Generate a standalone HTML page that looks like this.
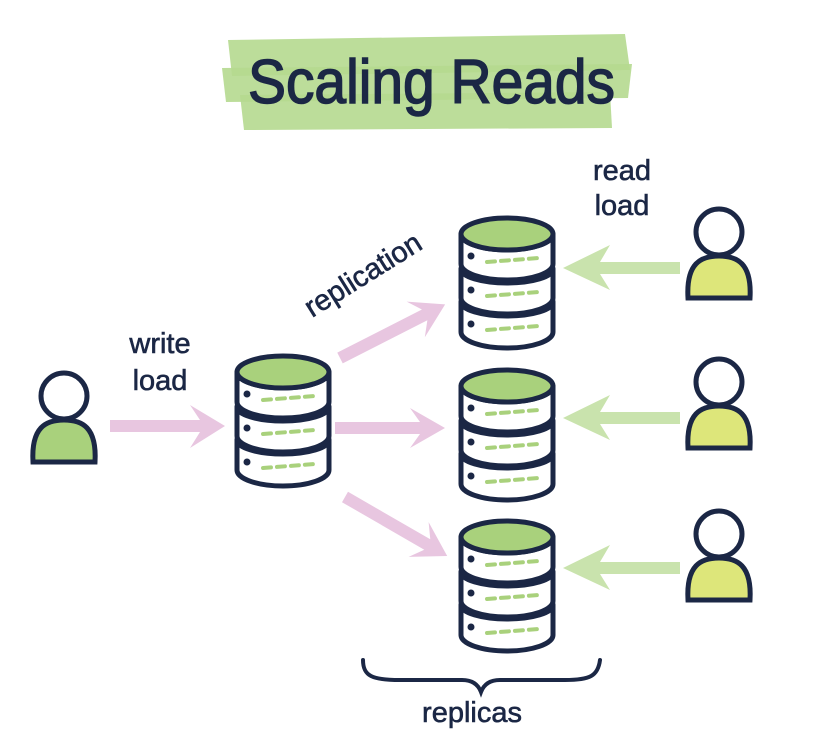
<!DOCTYPE html>
<html><head><style>
html,body{margin:0;padding:0;background:#fff;}
svg{display:block}
text{font-family:"Liberation Sans",sans-serif;fill:#1b2745;}
</style></head><body>
<svg width="831" height="741" viewBox="0 0 831 741" xmlns="http://www.w3.org/2000/svg">
<defs>
<g id="db" stroke="#1b2745" stroke-width="5" stroke-linejoin="round">
  <ellipse cx="48" cy="88" rx="46" ry="14" fill="#a9d17c"/>
  <path d="M2,88 A46,14 0 0 0 94,88 L94,118 A46,16 0 0 1 2,118 Z" fill="#fff"/>
  <ellipse cx="48" cy="55" rx="46" ry="14" fill="#a9d17c"/>
  <path d="M2,55 A46,14 0 0 0 94,55 L94,84 A46,16 0 0 1 2,84 Z" fill="#fff"/>
  <path d="M2,20 A46,16 0 0 0 94,20 L94,50 A46,16 0 0 1 2,50 Z" fill="#fff"/>
  <ellipse cx="48" cy="20" rx="46" ry="16" fill="#a9d17c"/>
  <circle cx="12" cy="42" r="3.5" fill="#1b2745" stroke="none"/>
  <circle cx="12" cy="76" r="3.5" fill="#1b2745" stroke="none"/>
  <circle cx="12" cy="110" r="3.5" fill="#1b2745" stroke="none"/>
  <g stroke="#a9d17c" stroke-width="4" stroke-dasharray="8 6" stroke-linecap="round">
    <path d="M28,48 L80,44" fill="none"/>
    <path d="M28,82 L80,78" fill="none"/>
    <path d="M28,116 L80,112" fill="none"/>
  </g>
</g>
</defs>

<!-- title highlight -->
<path d="M228,40 L625,34 L630,70 L232,76 Z" fill="#b5d98f" opacity="0.9"/>
<path d="M222,68 L632,64 L628,98 L226,102 Z" fill="#b5d98f" opacity="0.9"/>
<path d="M240,95 L610,92 L612,128 L244,130 Z" fill="#b5d98f" opacity="0.9"/>
<text x="248" y="103" font-size="62" textLength="367" lengthAdjust="spacingAndGlyphs" style="fill:#1b2745;stroke:#1b2745;stroke-width:1.5">Scaling Reads</text>

<!-- pink arrows -->
<g fill="#e8c6e0">
  <path d="M110,420 L200,420 L190,405 L225,426 L190,448 L200,432 L110,432 Z"/>
  <path d="M335,422 L420,422 L410,408 L445,428 L410,448 L420,434 L335,434 Z"/>
  <g transform="translate(340,358) rotate(-27)"><path d="M0,-6 L95,-6 L85,-20 L118,0 L85,20 L95,6 L0,6 Z"/></g>
  <g transform="translate(345,497) rotate(30)"><path d="M0,-6 L95,-6 L85,-20 L118,0 L85,20 L95,6 L0,6 Z"/></g>
</g>
<!-- green arrows -->
<g fill="#c9e3ad">
  <path d="M680,262 L600,262 L610,245 L563,268 L610,290 L600,274 L680,274 Z"/>
  <path d="M680,412 L600,412 L610,395 L563,418 L610,440 L600,424 L680,424 Z"/>
  <path d="M680,562 L600,562 L610,545 L563,568 L610,590 L600,574 L680,574 Z"/>
</g>

<use href="#db" x="235" y="352"/>
<use href="#db" x="459" y="214"/>
<use href="#db" x="459" y="366"/>
<use href="#db" x="459" y="517"/>

<g stroke="#1b2745" stroke-width="5">
  <g transform="translate(31,372)"><circle cx="33" cy="24" r="23" fill="#fff"/><path d="M2,90 C0,55 15,48 33,48 C51,48 66,55 64,90 Z" fill="#a9d17c"/></g>
  <g transform="translate(686,208)"><circle cx="33" cy="24" r="23" fill="#fff"/><path d="M2,90 C0,55 15,48 33,48 C51,48 66,55 64,90 Z" fill="#dde67a"/></g>
  <g transform="translate(686,358)"><circle cx="33" cy="24" r="23" fill="#fff"/><path d="M2,90 C0,55 15,48 33,48 C51,48 66,55 64,90 Z" fill="#dde67a"/></g>
  <g transform="translate(686,510)"><circle cx="33" cy="24" r="23" fill="#fff"/><path d="M2,90 C0,55 15,48 33,48 C51,48 66,55 64,90 Z" fill="#dde67a"/></g>
</g>

<g style="stroke:#1b2745;stroke-width:0.6">
<text x="160" y="353" text-anchor="middle" font-size="29">write</text>
<text x="160" y="390" text-anchor="middle" font-size="29">load</text>
<text x="622" y="180" text-anchor="middle" font-size="29">read</text>
<text x="622" y="215" text-anchor="middle" font-size="29">load</text>
<text transform="translate(368,283) rotate(-32)" text-anchor="middle" font-size="29">replication</text>
<text x="472" y="722" text-anchor="middle" font-size="29">replicas</text>
</g>

<path d="M363,660 C363,676 372,680 400,680 L462,680 C472,680 478,684 481,692 C484,684 490,680 500,680 L565,680 C590,680 598,676 600,660" fill="none" stroke="#1b2745" stroke-width="4" stroke-linecap="round"/>
</svg>
</body></html>
